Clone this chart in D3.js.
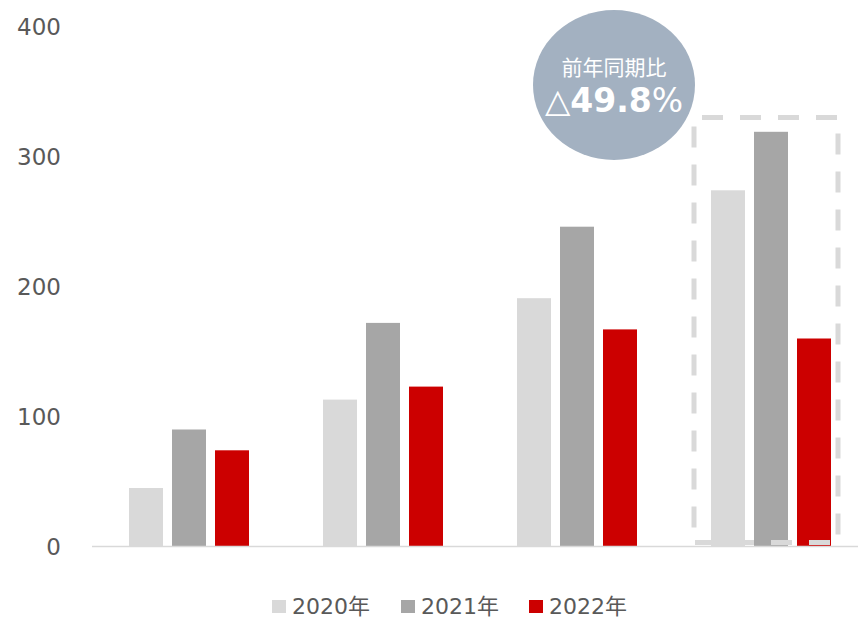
<!DOCTYPE html>
<html><head><meta charset="utf-8">
<script src="https://cdn.jsdelivr.net/npm/d3@7"></script>
<style>body{margin:0;background:#fff}svg{display:block}</style>
</head><body>
<svg id="chart" width="858" height="617"></svg>
<script>
const categories = ["Q1", "Q2", "Q3", "Q4"];
const seriesNames = ["2020年", "2021年", "2022年"];
const values2020 = [45, 113, 191, 274];
const values2021 = [90, 172, 246, 319];
const values2022 = [74, 123, 167, 160];
const yTicks = [0, 100, 200, 300, 400];
const bubbleLine1 = "前年同期比";
const bubbleLine2 = "49.8";

const colors = ["#d9d9d9", "#a6a6a6", "#cc0000"];
const seriesValues = [values2020, values2021, values2022];
const font = "'DejaVu Sans','Noto Sans CJK JP',sans-serif";

const svg = d3.select("#chart");
const x = d3.scaleBand().domain(categories).range([92, 868]).paddingInner(0).paddingOuter(0);
const y = d3.scaleLinear().domain([0, 400]).range([546.5, 26.5]);
const xs = d3.scaleBand().domain(seriesNames).range([37, 194 - 37]).paddingInner(9 / 43).paddingOuter(0);

// y axis labels
svg.append("g").selectAll("text").data(yTicks).join("text")
  .attr("x", 61).attr("y", d => y(d)).attr("dy", "0.36em")
  .attr("text-anchor", "end").attr("font-family", font).attr("font-size", 23)
  .attr("fill", "#595959").text(d => d);

// bars
categories.forEach((c, i) => {
  svg.append("g").selectAll("rect").data(seriesNames).join("rect")
    .attr("x", s => x(c) + xs(s))
    .attr("width", xs.bandwidth())
    .attr("y", (s, j) => y(seriesValues[j][i]))
    .attr("height", (s, j) => y(0) - y(seriesValues[j][i]))
    .attr("fill", (s, j) => colors[j]);
});

// baseline
svg.append("line").attr("x1", 92).attr("x2", 858).attr("y1", y(0)).attr("y2", y(0))
  .attr("stroke", "#d9d9d9").attr("stroke-width", 1.5);

// dashed highlight box around last group
const last = categories[categories.length - 1];
const bx0 = x(last) + 20, bx1 = x(last) + 164, by0 = y(330), by1 = y(3);
const dashStyle = g => g.attr("stroke", "#d9d9d9").attr("stroke-width", 5).attr("stroke-dasharray", "21 17").attr("fill", "none");
svg.append("line").attr("x1", bx0 + 8).attr("x2", bx1 + 2).attr("y1", by0).attr("y2", by0).call(dashStyle);
svg.append("line").attr("x1", bx0 + 1).attr("x2", bx1).attr("y1", by1).attr("y2", by1).call(dashStyle);
svg.append("line").attr("x1", bx0).attr("x2", bx0).attr("y1", by0 + 9).attr("y2", by1).call(dashStyle);
svg.append("line").attr("x1", bx1).attr("x2", bx1).attr("y1", by0 + 16).attr("y2", by1).call(dashStyle);

// bubble
const bub = svg.append("g").attr("transform", "translate(614,85)");
bub.append("ellipse").attr("rx", 81).attr("ry", 75).attr("fill", "#a3b1c1");
bub.append("text").attr("y", -10).attr("text-anchor", "middle")
  .attr("font-family", font).attr("font-size", 21).attr("fill", "#fff").text(bubbleLine1);
const t2 = bub.append("text").attr("y", 27).attr("text-anchor", "middle")
  .attr("font-family", font).attr("font-size", 33).attr("fill", "#fff");
t2.append("tspan").attr("font-weight", "bold").text("△");
t2.append("tspan").attr("font-weight", "bold").text(bubbleLine2);
t2.append("tspan").attr("font-weight", "normal").text("%");

// legend
const legendX = [272, 401, 529];
const lg = svg.append("g").selectAll("g").data(seriesNames).join("g")
  .attr("transform", (d, i) => `translate(${legendX[i]},600)`);
lg.append("rect").attr("width", 14).attr("height", 13).attr("fill", (d, i) => colors[i]);
lg.append("text").attr("x", 20).attr("y", 13.5).attr("font-family", font).attr("font-size", 22)
  .attr("fill", "#595959").text(d => d);
</script>
</body></html>
